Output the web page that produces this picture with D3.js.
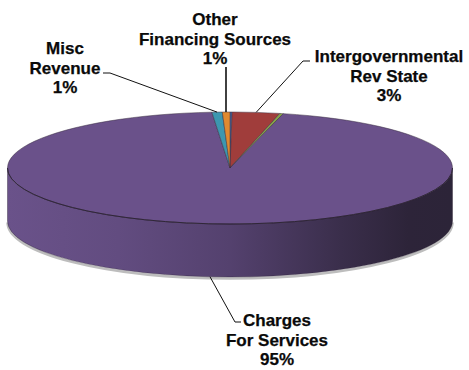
<!DOCTYPE html>
<html>
<head>
<meta charset="utf-8">
<script src="https://cdn.jsdelivr.net/npm/d3@7/dist/d3.min.js"></script>
<style>
  html, body { margin: 0; padding: 0; background: #fff; }
  svg { display: block; }
  text { font-family: "Liberation Sans", Arial, sans-serif; font-weight: bold; fill: #0a0a0a; stroke: #0a0a0a; stroke-width: 0.25px; }
</style>
</head>
<body>
<svg id="chart" width="469" height="370"></svg>
<script>
// Revenue sources, clockwise from 12 o'clock
const categories = ["Interest Earnings", "Intergovernmental Rev State", "Intergovernmental Rev Federal",
                    "Charges For Services", "Misc Revenue", "Other Financing Sources"];
const values = [0.15, 3.45, 0.25, 94.85, 0.75, 0.55];
const labelLines = [null, ["Intergovernmental", "Rev State"], null,
                    ["Charges", "For Services"], ["Misc", "Revenue"], ["Other", "Financing Sources"]];
const topColors  = ["#4a70ad", "#a03d3b", "#86a448", "#6a518a", "#3c97b0", "#e08a30"];
const sideColors = ["#34507e", "#72292a", "#5f7531", "#4c3a64", "#2a6b7e", "#a26322"];

const svg = d3.select("#chart");
const cx = 230, cy = 168, rx = 222.5, ry = 56, depth = 53;

const pie = d3.pie().sort(null).value(d => d.value).startAngle(0).endAngle(2 * Math.PI);
const data = pie(values.map((v, i) => ({ value: v, name: categories[i], lines: labelLines[i], i })));

const pt = (a, dy = 0) => [cx + rx * Math.sin(a), cy - ry * Math.cos(a) + dy];

// gradient for the front wall of the large slice
const defs = svg.append("defs");
const grad = defs.append("linearGradient").attr("id", "sideGrad")
  .attr("gradientUnits", "userSpaceOnUse")
  .attr("x1", cx - rx).attr("x2", cx + rx).attr("y1", 0).attr("y2", 0);
[[0, "#6a528a"], [0.25, "#624c80"], [0.5, "#54416e"], [0.75, "#3a2e4b"], [0.9, "#2d2439"], [1, "#2c2438"]]
  .forEach(([o, c]) => grad.append("stop").attr("offset", o).attr("stop-color", c));

// soft shadow under the disc
svg.append("path")
  .attr("d", (() => {
    const a = pt(Math.PI / 2, depth + 1.5), b = pt(3 * Math.PI / 2, depth + 1.5);
    return `M${a[0]},${a[1]} A${rx},${ry} 0 0 1 ${b[0]},${b[1]}`;
  })())
  .attr("fill", "none").attr("stroke", "#bdbdbd").attr("stroke-width", 2.5);

// front walls (visible between 90° and 270°)
const sides = data.map(d => {
  const a = Math.max(d.startAngle, Math.PI / 2), b = Math.min(d.endAngle, 3 * Math.PI / 2);
  return { d, a, b };
}).filter(s => s.b > s.a);

svg.selectAll("path.side").data(sides).join("path")
  .attr("class", "side")
  .attr("d", s => {
    const p0 = pt(s.a), p1 = pt(s.b), q1 = pt(s.b, depth), q0 = pt(s.a, depth);
    const large = (s.b - s.a) > Math.PI ? 1 : 0;
    return `M${p0[0]},${p0[1]} A${rx},${ry} 0 ${large} 1 ${p1[0]},${p1[1]}` +
           ` L${q1[0]},${q1[1]} A${rx},${ry} 0 ${large} 0 ${q0[0]},${q0[1]} Z`;
  })
  .attr("fill", s => s.d.data.i === 3 ? "url(#sideGrad)" : sideColors[s.d.data.i])
  .attr("stroke", "#2a2232").attr("stroke-width", 0.4);

// top faces
svg.selectAll("path.top").data(data).join("path")
  .attr("class", "top")
  .attr("d", d => {
    const p0 = pt(d.startAngle), p1 = pt(d.endAngle);
    const large = (d.endAngle - d.startAngle) > Math.PI ? 1 : 0;
    return `M${cx},${cy} L${p0[0]},${p0[1]} A${rx},${ry} 0 ${large} 1 ${p1[0]},${p1[1]} Z`;
  })
  .attr("fill", d => topColors[d.data.i])
  .attr("stroke", "#3a2f40").attr("stroke-width", 0.5).attr("stroke-linejoin", "round");

// dark rim along the front edge of the top face
(() => {
  const a = pt(Math.PI / 2), b = pt(3 * Math.PI / 2);
  svg.append("path")
    .attr("d", `M${a[0]},${a[1]} A${rx},${ry} 0 0 1 ${b[0]},${b[1]}`)
    .attr("fill", "none").attr("stroke", "#2b2233").attr("stroke-width", 0.9);
})();

// data labels with leader lines
const labelPos = {
  1: { x: 389, y: 62, leader: [[310, 61], [303, 61], null] },
  3: { x: 277, y: 326, leader: [[241, 322], [235, 322], null] },
  4: { x: 65,  y: 54, leader: [[103, 73], [110, 73], null] },
  5: { x: 215, y: 25, leader: [[226, 67], null] }
};
const fmt = v => Math.round(v) + "%";
const lh = 19.5;

data.forEach(d => {
  const lp = labelPos[d.data.i];
  if (!d.data.lines || !lp) return;
  // anchor on the slice edge (top rim for back slices, bottom rim for front)
  const mid = (d.startAngle + d.endAngle) / 2;
  let anchor;
  if (d.data.i === 3) {
    anchor = pt(Math.PI + 0.09, depth);
  } else if (d.data.i === 5) {
    anchor = [lp.leader[0][0], pt(mid)[1]];
  } else {
    anchor = pt(mid);
  }
  const pts = lp.leader.map(p => p === null ? anchor : p);
  svg.append("path")
    .attr("d", d3.line()(pts))
    .attr("fill", "none").attr("stroke", "#111")
    .attr("stroke-width", d.data.i === 5 ? 1.6 : 1);

  const t = svg.append("text").attr("text-anchor", "middle").attr("font-size", 17);
  d.data.lines.concat([fmt(d.data.value)]).forEach((s, k) => {
    t.append("tspan").attr("x", lp.x).attr("y", lp.y + k * lh).text(s);
  });
});
</script>
</body>
</html>
